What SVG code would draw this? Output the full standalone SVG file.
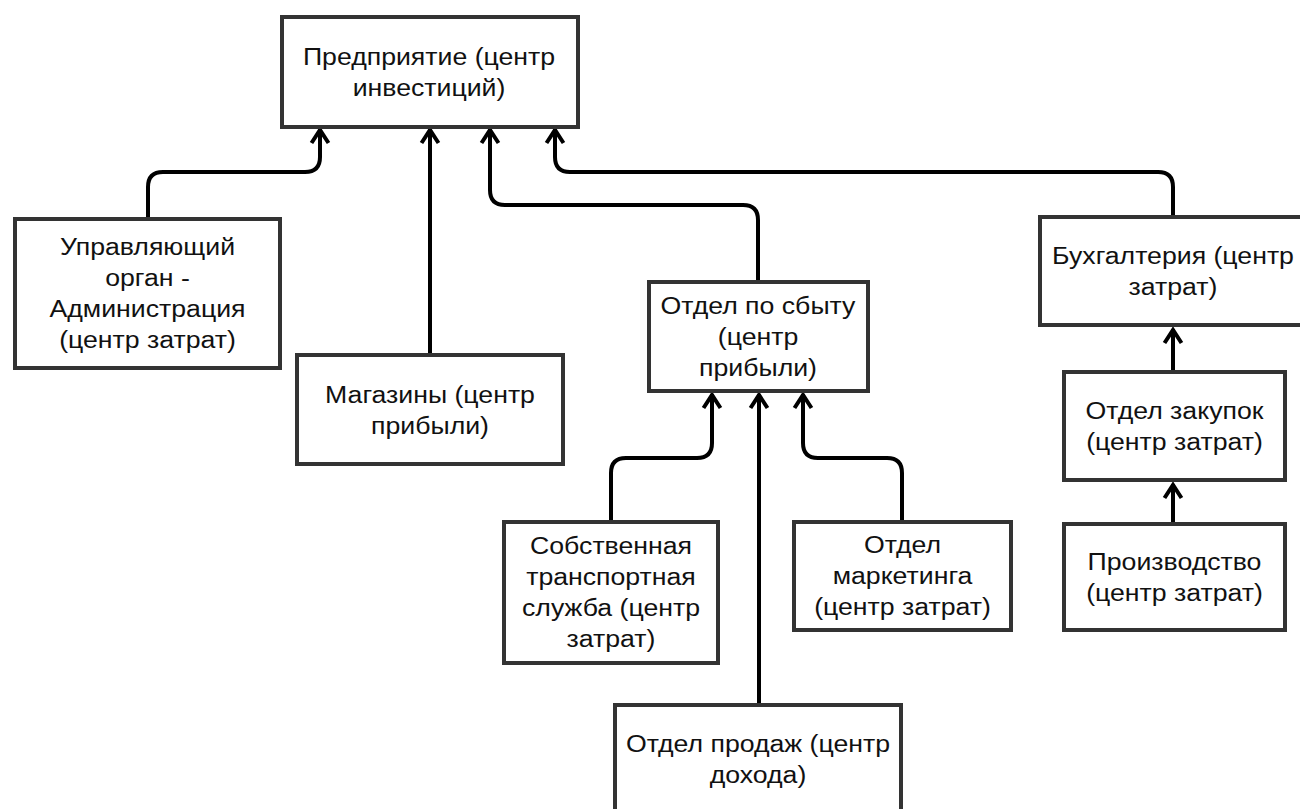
<svg xmlns="http://www.w3.org/2000/svg" width="1300" height="809" viewBox="0 0 1300 809">
<style>
.box{fill:#fff;stroke:#333;stroke-width:4}
.t{font-family:"Liberation Sans",Arial,sans-serif;font-size:23px;fill:#111;text-anchor:middle}
.c{fill:none;stroke:#000;stroke-width:4;stroke-linejoin:round}
</style>
<defs>
<marker id="arr" markerUnits="userSpaceOnUse" markerWidth="40" markerHeight="40" viewBox="-20 -20 40 40" refX="0" refY="0" orient="auto">
<path d="M-14,-8.5 L-1,0 L-14,8.5" fill="none" stroke="#000" stroke-width="4"/>
</marker>
</defs>
<rect width="1300" height="809" fill="#fff"/>
<g id="connectors">
<path class="c" marker-end="url(#arr)" d="M148,217 V187 Q148,172 163,172 H305 Q320,172 320,157 V129"/>
<path class="c" marker-end="url(#arr)" d="M430,353 V129"/>
<path class="c" marker-end="url(#arr)" d="M758,280 V220 Q758,205 743,205 H505 Q490,205 490,190 V129"/>
<path class="c" marker-end="url(#arr)" d="M1173,215 V187 Q1173,172 1158,172 H570 Q555,172 555,157 V129"/>
<path class="c" marker-end="url(#arr)" d="M1173,370 V329"/>
<path class="c" marker-end="url(#arr)" d="M1173,522 V484"/>
<path class="c" marker-end="url(#arr)" d="M611,520 V473 Q611,458 626,458 H697 Q712,458 712,443 V394"/>
<path class="c" marker-end="url(#arr)" d="M759,703 V394"/>
<path class="c" marker-end="url(#arr)" d="M902,520 V473 Q902,458 887,458 H818 Q803,458 803,443 V394"/>
</g>
<g id="n-enterprise">
<rect class="box" x="282" y="17" width="296" height="110"/>
<g transform="translate(429 0) scale(1.16 1)">
<text class="t" x="0" y="65">Предприятие (центр</text>
<text class="t" x="0" y="96">инвестиций)</text>
</g>
</g>
<g id="n-admin">
<rect class="box" x="15" y="219" width="265" height="149"/>
<g transform="translate(147.5 0) scale(1.16 1)">
<text class="t" x="0" y="255">Управляющий</text>
<text class="t" x="0" y="286">орган -</text>
<text class="t" x="0" y="317">Администрация</text>
<text class="t" x="0" y="348">(центр затрат)</text>
</g>
</g>
<g id="n-shops">
<rect class="box" x="297" y="355" width="266" height="109"/>
<g transform="translate(430 0) scale(1.16 1)">
<text class="t" x="0" y="403">Магазины (центр</text>
<text class="t" x="0" y="434">прибыли)</text>
</g>
</g>
<g id="n-sbyt">
<rect class="box" x="649" y="282" width="219" height="109"/>
<g transform="translate(758 0) scale(1.16 1)">
<text class="t" x="0" y="314">Отдел по сбыту</text>
<text class="t" x="0" y="345">(центр</text>
<text class="t" x="0" y="376">прибыли)</text>
</g>
</g>
<g id="n-buh">
<rect class="box" x="1040" y="217" width="270" height="108"/>
<g transform="translate(1173 0) scale(1.16 1)">
<text class="t" x="0" y="264">Бухгалтерия (центр</text>
<text class="t" x="0" y="295">затрат)</text>
</g>
</g>
<g id="n-zakup">
<rect class="box" x="1064" y="372" width="221" height="108"/>
<g transform="translate(1174.5 0) scale(1.16 1)">
<text class="t" x="0" y="419">Отдел закупок</text>
<text class="t" x="0" y="450">(центр затрат)</text>
</g>
</g>
<g id="n-proizv">
<rect class="box" x="1064" y="524" width="221" height="106"/>
<g transform="translate(1174.5 0) scale(1.16 1)">
<text class="t" x="0" y="570">Производство</text>
<text class="t" x="0" y="601">(центр затрат)</text>
</g>
</g>
<g id="n-transport">
<rect class="box" x="504" y="522" width="214" height="141"/>
<g transform="translate(611 0) scale(1.16 1)">
<text class="t" x="0" y="554">Собственная</text>
<text class="t" x="0" y="585">транспортная</text>
<text class="t" x="0" y="616">служба (центр</text>
<text class="t" x="0" y="647">затрат)</text>
</g>
</g>
<g id="n-marketing">
<rect class="box" x="794" y="522" width="217" height="108"/>
<g transform="translate(902.5 0) scale(1.16 1)">
<text class="t" x="0" y="553">Отдел</text>
<text class="t" x="0" y="584">маркетинга</text>
<text class="t" x="0" y="615">(центр затрат)</text>
</g>
</g>
<g id="n-prodazh">
<rect class="box" x="615" y="705" width="286" height="120"/>
<g transform="translate(758 0) scale(1.16 1)">
<text class="t" x="0" y="752">Отдел продаж (центр</text>
<text class="t" x="0" y="783">дохода)</text>
</g>
</g>
</svg>
